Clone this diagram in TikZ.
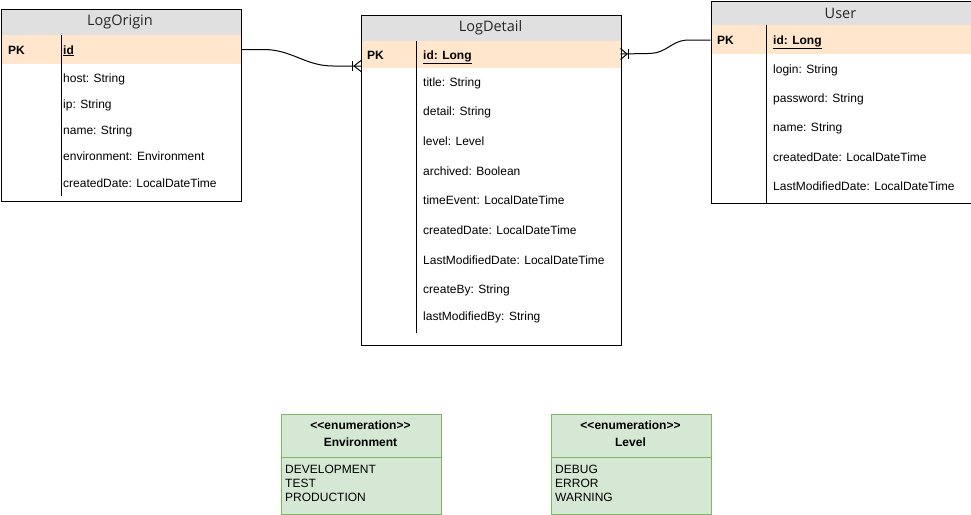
\documentclass[tikz,border=0pt]{standalone}
\usepackage{fontspec}
\newfontfamily\uifont{Liberation Sans}
\newfontfamily\hdrfont{Open Sans}
\definecolor{hdrgray}{HTML}{E0E0E0}
\definecolor{pkfill}{HTML}{FFE6CC}
\definecolor{enumfill}{HTML}{D5E8D4}
\definecolor{enumline}{HTML}{82B366}
\definecolor{titlecol}{HTML}{262626}
\begin{document}
\begin{tikzpicture}[x=1pt,y=-1pt,
  frame/.style={draw=black, line width=1pt, inner sep=0pt, anchor=north west, fill=none},
  title/.style={font=\hdrfont\fontsize{14.5}{16}\selectfont, text=titlecol, inner sep=0pt},
  fld/.style={font=\uifont\fontsize{12}{14}\selectfont, anchor=west, inner sep=0pt, text height=11.6pt, text depth=2.5pt},
  pkl/.style={fld, font=\uifont\bfseries\fontsize{12}{14}\selectfont},
  divider/.style={draw=black, line width=1pt},
  conn/.style={draw=black, line width=1pt},
  enumbox/.style={draw=enumline, fill=enumfill, line width=1pt, inner sep=0pt, anchor=north west},
  enumhd/.style={font=\uifont\bfseries\fontsize{12}{14}\selectfont, inner sep=0pt, text height=11.6pt, text depth=2.5pt},
  enumit/.style={fld},
]
\useasboundingbox (0,0) rectangle (971,514);

% ---------------- LogOrigin ----------------
\fill[hdrgray] (0.5,8.5) rectangle (240.5,35);
\fill[pkfill] (0.5,35) rectangle (240.5,64);
\node[frame, minimum width=240pt, minimum height=192pt] (lo) at (0.5,8.5) {};
\draw[divider] (61,35) -- (61,196);
\node[title] (lo-t) at (120,22) {LogOrigin};
\node[pkl] (lo-pkl) at (8,49.5) {PK};
\node[pkl] (lo-pk) at (63,49.5) {\underline{id}};
\node[fld] (lo-1) at (63,78) {host: String};
\node[fld] (lo-2) at (63,104) {ip: String};
\node[fld] (lo-3) at (63,130) {name: String};
\node[fld] (lo-4) at (63,156) {environment: Environment};
\node[fld] (lo-5) at (63,183) {createdDate: LocalDateTime};

% ---------------- LogDetail ----------------
\fill[hdrgray] (361,14.5) rectangle (620.5,41);
\fill[pkfill] (361,41) rectangle (620.5,68);
\node[frame, minimum width=259.5pt, minimum height=330.5pt] (ld) at (361,14.5) {};
\draw[divider] (416.5,41) -- (416.5,333);
\node[title] (ld-t) at (490.5,28) {LogDetail};
\node[pkl] (ld-pkl) at (367,54.5) {PK};
\node[pkl] (ld-pk) at (423,54.5) {\underline{id: Long}};
\node[fld] (ld-1) at (423,82) {title: String};
\node[fld] (ld-2) at (423,111) {detail: String};
\node[fld] (ld-3) at (423,141) {level: Level};
\node[fld] (ld-4) at (423,171) {archived: Boolean};
\node[fld] (ld-5) at (423,200) {timeEvent: LocalDateTime};
\node[fld] (ld-6) at (423,230) {createdDate: LocalDateTime};
\node[fld] (ld-7) at (423,260) {LastModifiedDate: LocalDateTime};
\node[fld] (ld-8) at (423,289) {createBy: String};
\node[fld] (ld-9) at (423,316) {lastModifiedBy: String};

% ---------------- User ----------------
\fill[hdrgray] (710.5,0.5) rectangle (970.5,25);
\fill[pkfill] (710.5,25) rectangle (970.5,54);
\node[frame, minimum width=260pt, minimum height=202pt] (us) at (710.5,0.5) {};
\draw[divider] (766.5,25) -- (766.5,202.5);
\node[title] (us-t) at (840.5,13.5) {User};
\node[pkl] (us-pkl) at (717,40) {PK};
\node[pkl] (us-pk) at (773,40) {\underline{id: Long}};
\node[fld] (us-1) at (773,69) {login: String};
\node[fld] (us-2) at (773,98) {password: String};
\node[fld] (us-3) at (773,127) {name: String};
\node[fld] (us-4) at (773,157) {createdDate: LocalDateTime};
\node[fld] (us-5) at (773,186) {LastModifiedDate: LocalDateTime};

% ---------------- connectors ----------------
\coordinate (c1s) at (lo.east |- lo-pk);
\coordinate (c1e) at (361,66);
\draw[conn] (c1s) -- ++(22,0) .. controls (292,49.5) and (305,66) .. (333,66) -- (c1e);
% crow's foot (one-to-many) at LogDetail left
\draw[conn] (352.5,61) -- (352.5,71);
\draw[conn] (354,66) -- (c1e |- 0,60.5);
\draw[conn] (354,66) -- (c1e |- 0,71.5);

\coordinate (c2s) at (us.west |- us-pk);
\coordinate (c2e) at (620.5,54);
\draw[conn] (c2s) -- ++(-22,0) .. controls (670,40.5) and (668,53.5) .. (648,53.5) -- (c2e);
\draw[conn] (628.5,49) -- (628.5,59);
\draw[conn] (627,54) -- (c2e |- 0,48.5);
\draw[conn] (627,54) -- (c2e |- 0,59.5);

% ---------------- enumerations ----------------
\node[enumbox, minimum width=160pt, minimum height=100pt] (env) at (280.5,413.5) {};
\draw[draw=enumline, line width=1pt] (env.west |- 0,457) -- (env.east |- 0,457);
\node[enumhd] (env-s) at (360.5,425) {<{}<enumeration>{}>};
\node[enumhd] (env-n) at (360.5,442) {Environment};
\node[enumit] (env-1) at (285,469) {DEVELOPMENT};
\node[enumit] (env-2) at (285,483) {TEST};
\node[enumit] (env-3) at (285,497) {PRODUCTION};

\node[enumbox, minimum width=160pt, minimum height=100pt] (lvl) at (550.5,413.5) {};
\draw[draw=enumline, line width=1pt] (lvl.west |- 0,457) -- (lvl.east |- 0,457);
\node[enumhd] (lvl-s) at (630.5,425) {<{}<enumeration>{}>};
\node[enumhd] (lvl-n) at (630.5,442) {Level};
\node[enumit] (lvl-1) at (555,469) {DEBUG};
\node[enumit] (lvl-2) at (555,483) {ERROR};
\node[enumit] (lvl-3) at (555,497) {WARNING};
\end{tikzpicture}
\end{document}
